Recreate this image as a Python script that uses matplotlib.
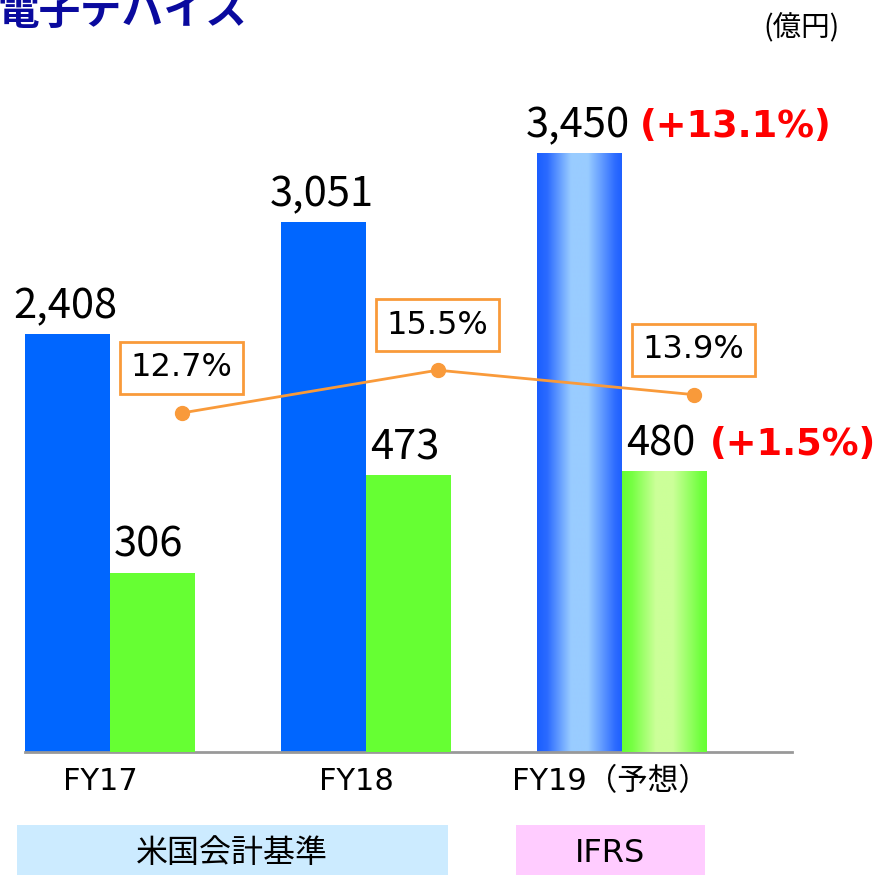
import matplotlib
matplotlib.use("Agg")
import matplotlib.pyplot as plt
import numpy as np
from matplotlib.colors import LinearSegmentedColormap
from matplotlib.patches import Rectangle

categories = ["FY17", "FY18", "FY19（予想）"]
sales = [2408, 3051, 3450]
profit = [306, 473, 480]
margin = [12.7, 15.5, 13.9]
sales_labels = ["2,408", "3,051", "3,450"]
profit_labels = ["306", "473", "480"]
margin_labels = ["12.7%", "15.5%", "13.9%"]
growth_sales = "(+13.1%)"
growth_profit = "(+1.5%)"
title = "電子デバイス"
unit = "(億円)"
standards = ["米国会計基準", "IFRS"]

BLUE = "#0066FF"
GREEN = "#66FF33"
ORANGE = "#F99A3A"
JP = ["Noto Sans CJK JP", "DejaVu Sans"]
LAT = ["DejaVu Sans", "Noto Sans CJK JP"]

W, H = 883, 875
fig = plt.figure(figsize=(W / 100, H / 100), dpi=100)
ax = fig.add_axes([25 / W, 1 - 752 / H, 767 / W, 652 / H])
ax2 = ax.twinx()
ax3 = ax.twinx()

x = np.arange(len(categories))
bw = 0.332

bars1 = ax.bar(x - bw / 2, sales, bw, color=BLUE, zorder=2)
bars2 = ax2.bar(x + bw / 2, profit, bw, color=GREEN, zorder=2)

# gradient for forecast bars
cm_b = LinearSegmentedColormap.from_list("gb", [(0, "#1A5EFF"), (0.12, "#2B6BFF"), (0.4, "#99CCFF"),
                                                 (0.6, "#99CCFF"), (0.92, "#2D6CFF"), (1, "#1F60FF")])
cm_g = LinearSegmentedColormap.from_list("gg", [(0, "#66FF33"), (0.12, "#77FF44"), (0.4, "#CCFF99"),
                                                 (0.6, "#CCFF99"), (0.92, "#72FF40"), (1, "#66FF33")])
grad = np.linspace(0, 1, 256).reshape(1, -1)
for bar, cmap, axx in [(bars1[2], cm_b, ax), (bars2[2], cm_g, ax2)]:
    bar.set_facecolor("none")
    x0, w_, h_ = bar.get_x(), bar.get_width(), bar.get_height()
    im = axx.imshow(grad, cmap=cmap, aspect="auto", extent=[x0, x0 + w_, 0, h_], zorder=2,
                    interpolation="bilinear")
    im.set_clip_path(bar)
ax.set_xlim(-0.332, 2.664)
ax.set_ylim(0, 3754)
ax2.set_ylim(0, 1114.5)
ax3.set_ylim(-9.46, 33.16)

# line
xl = x + 0.28
ax3.plot(xl, margin, color=ORANGE, lw=2, marker="o", ms=10, zorder=3)
for xi, m, lab in zip(xl, margin, margin_labels):
    ax3.annotate(lab, (xi, m), xytext=(0, 45), textcoords="offset pixels", ha="center", va="center",
                 fontsize=23, family=LAT, color="black",
                 bbox=dict(boxstyle="square,pad=0.33", fc="white", ec=ORANGE, lw=2))

# value labels
for b, lab in zip(bars1, sales_labels):
    ax.annotate(lab, (b.get_x() + b.get_width() / 2, b.get_height()), xytext=(-2, 16),
                textcoords="offset pixels", ha="center", va="baseline", fontsize=30, family=JP)
for b, lab in zip(bars2, profit_labels):
    ax2.annotate(lab, (b.get_x() + b.get_width() / 2, b.get_height()), xytext=(-4, 16),
                 textcoords="offset pixels", ha="center", va="baseline", fontsize=30, family=JP)
b = bars1[2]
ax.annotate(growth_sales, (b.get_x() + b.get_width() / 2, b.get_height()), xytext=(60, 16),
            textcoords="offset pixels", ha="left", va="baseline", fontsize=26.5, family=LAT,
            fontweight="bold", color="#FF0000")
b = bars2[2]
ax2.annotate(growth_profit, (b.get_x() + b.get_width() / 2, b.get_height()), xytext=(45, 16),
             textcoords="offset pixels", ha="left", va="baseline", fontsize=26.5, family=LAT,
             fontweight="bold", color="#FF0000")

# category labels
for xi, c in zip(x, categories):
    off = -12 if "（" in c else -10
    ax.annotate(c, (xi, 0), xycoords=("data", "axes fraction"), xytext=(off, -30),
                textcoords="offset pixels", ha="center", va="center", fontsize=22, family=LAT)

for a in (ax, ax2, ax3):
    a.set_yticks([])
    a.set_xticks([])
    for s in ("top", "left", "right", "bottom"):
        a.spines[s].set_visible(False)
ax.spines["bottom"].set_visible(True)
ax.spines["bottom"].set_color("#999999")
ax.spines["bottom"].set_linewidth(2)
ax.spines["bottom"].set_zorder(5)
ax.patch.set_visible(False)

# title and unit
fig.text(-3 / W, 1 - 24 / H, title, ha="left", va="baseline", fontsize=30, fontweight="bold",
         color="#0A0A9E", family=JP)
fig.text(802 / W, 1 - 28 / H, unit, ha="center", va="center", fontsize=20.5, family=JP)

# accounting standard boxes
fig.patches.append(Rectangle((17 / W, 0), (448 - 17) / W, 50 / H, transform=fig.transFigure,
                             fc="#CCEBFF", ec="none", zorder=0))
fig.patches.append(Rectangle((516 / W, 0), (705 - 516) / W, 50 / H, transform=fig.transFigure,
                             fc="#FFCCFF", ec="none", zorder=0))
fig.text(232 / W, 1 - 853 / H, standards[0], ha="center", va="center", fontsize=23, family=JP)
fig.text(610 / W, 1 - 853 / H, standards[1], ha="center", va="center", fontsize=23, family=LAT)

fig.savefig("out.png", dpi=100)
